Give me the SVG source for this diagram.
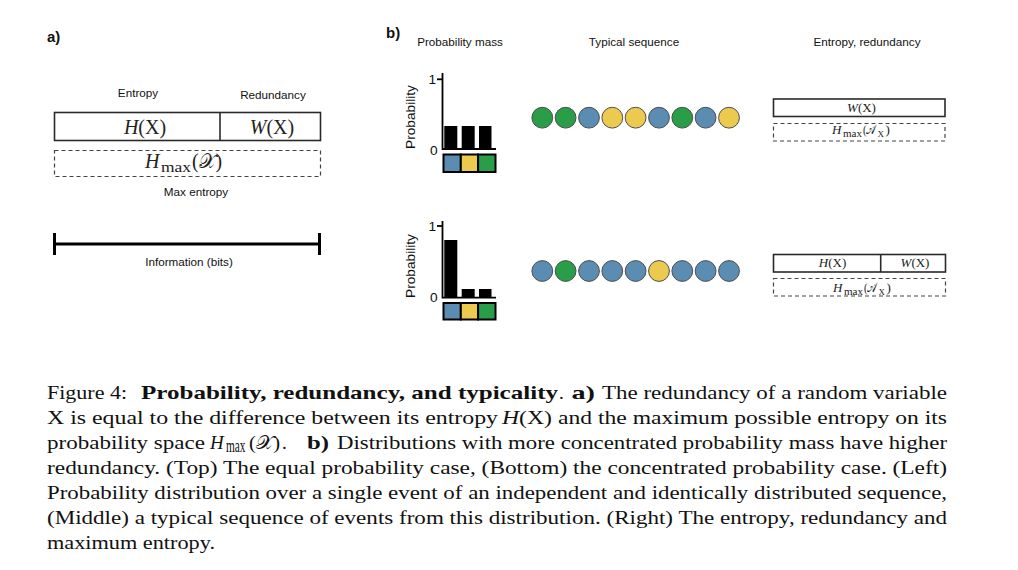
<svg xmlns="http://www.w3.org/2000/svg" width="1018" height="570" viewBox="0 0 1018 570">
<defs>
<style>
.sans{font-family:"Liberation Sans",Arial,sans-serif;fill:#111}
.lbl{font-size:11.7px}
.panel{font-size:15px;font-weight:bold}
.math{font-family:"Liberation Serif","DejaVu Serif",serif;fill:#222}
.cap{font-family:"Liberation Serif","DejaVu Serif",serif;font-size:19px;fill:#111}
.b{font-weight:bold}
.it{font-style:italic}
.solid{fill:none;stroke:#2a2a2a;stroke-width:1.6}
.dash{fill:none;stroke:#444;stroke-width:1.2;stroke-dasharray:4 3}
.axis{stroke:#000;stroke-width:1.8;fill:none}
.bar{fill:#000}
.blue{fill:#5b8cb2}
.yel{fill:#ebca4f}
.grn{fill:#2a9d49}
.dot{stroke:#4d4d4d;stroke-width:1}
.cell{stroke:#000;stroke-width:2}
</style>
</defs>
<rect width="1018" height="570" fill="#fff"/>

<!-- Panel a -->
<text class="sans panel" x="47" y="42">a)</text>
<g id="entropy-redundancy-bar">
<text class="sans lbl" x="138" y="97" text-anchor="middle">Entropy</text>
<text class="sans lbl" x="273" y="99" text-anchor="middle">Redundancy</text>
<rect class="solid" x="54.5" y="112.5" width="266" height="28"/>
<line class="solid" x1="220" y1="112.5" x2="220" y2="140.5"/>
<text class="math" x="145" y="133.5" font-size="20" text-anchor="middle"><tspan class="it">H</tspan>(X)</text>
<text class="math" x="272" y="133.5" font-size="20" text-anchor="middle"><tspan class="it">W</tspan>(X)</text>
</g>
<g id="max-entropy-bar">
<rect class="dash" x="54.5" y="150.5" width="266" height="26"/>
<text class="math it" x="145" y="168" font-size="20">H</text>
<text class="math" x="161" y="172" font-size="14" textLength="30" lengthAdjust="spacingAndGlyphs">max</text>
<text class="math" x="192" y="168" font-size="20" textLength="30" lengthAdjust="spacingAndGlyphs">(𝒳)</text>
<text class="sans lbl" x="196" y="196" text-anchor="middle">Max entropy</text>
</g>
<g id="information-axis">
<line x1="54" y1="244" x2="320" y2="244" stroke="#000" stroke-width="3"/>
<line x1="54.5" y1="233" x2="54.5" y2="255" stroke="#000" stroke-width="3"/>
<line x1="319.5" y1="233" x2="319.5" y2="255" stroke="#000" stroke-width="3"/>
<text class="sans lbl" x="189" y="266" text-anchor="middle">Information (bits)</text>
</g>

<!-- Panel b -->
<text class="sans panel" x="386" y="38">b)</text>
<text class="sans lbl" x="460" y="46" text-anchor="middle">Probability mass</text>
<text class="sans lbl" x="634" y="46" text-anchor="middle">Typical sequence</text>
<text class="sans lbl" x="867" y="46" text-anchor="middle">Entropy, redundancy</text>

<g id="pmf-top">
<text class="sans" font-size="13.7" transform="translate(415,117) rotate(-90)" text-anchor="middle">Probability</text>
<polyline class="axis" points="442.5,73 442.5,149 496,149"/>
<line class="axis" x1="437" y1="79.3" x2="442.5" y2="79.3"/>
<text class="sans" font-size="13.7" x="436" y="83.5" text-anchor="end">1</text>
<text class="sans" font-size="13.7" x="437.5" y="155" text-anchor="end">0</text>
<rect class="bar" x="444.3" y="126" width="13" height="23"/>
<rect class="bar" x="461.7" y="126" width="13" height="23"/>
<rect class="bar" x="479" y="126" width="12.5" height="23"/>
<rect class="blue cell" x="443.5" y="154.5" width="17.3" height="17.5"/>
<rect class="yel cell" x="460.8" y="154.5" width="17.3" height="17.5"/>
<rect class="grn cell" x="478.1" y="154.5" width="17.4" height="17.5"/>
</g>

<g id="pmf-bottom">
<text class="sans" font-size="13.7" transform="translate(415,266) rotate(-90)" text-anchor="middle">Probability</text>
<polyline class="axis" points="442.5,221 442.5,297.7 496,297.7"/>
<line class="axis" x1="437" y1="226" x2="442.5" y2="226"/>
<text class="sans" font-size="13.7" x="436" y="230.5" text-anchor="end">1</text>
<text class="sans" font-size="13.7" x="437.5" y="302" text-anchor="end">0</text>
<rect class="bar" x="444.3" y="240" width="13" height="57.7"/>
<rect class="bar" x="461.7" y="289" width="13" height="8.7"/>
<rect class="bar" x="479" y="289" width="12.5" height="8.7"/>
<rect class="blue cell" x="443.5" y="303" width="17.3" height="16.5"/>
<rect class="yel cell" x="460.8" y="303" width="17.3" height="16.5"/>
<rect class="grn cell" x="478.1" y="303" width="17.4" height="16.5"/>
</g>

<g id="sequence-top">
<circle class="dot grn" cx="542.3" cy="117.7" r="10.4"/>
<circle class="dot grn" cx="565.6" cy="117.7" r="10.4"/>
<circle class="dot blue" cx="589" cy="117.7" r="10.4"/>
<circle class="dot yel" cx="612.3" cy="117.7" r="10.4"/>
<circle class="dot yel" cx="635.6" cy="117.7" r="10.4"/>
<circle class="dot blue" cx="659" cy="117.7" r="10.4"/>
<circle class="dot grn" cx="682.3" cy="117.7" r="10.4"/>
<circle class="dot blue" cx="705.6" cy="117.7" r="10.4"/>
<circle class="dot yel" cx="729" cy="117.7" r="10.4"/>
</g>

<g id="sequence-bottom">
<circle class="dot blue" cx="542.3" cy="271" r="10.4"/>
<circle class="dot grn" cx="565.6" cy="271" r="10.4"/>
<circle class="dot blue" cx="589" cy="271" r="10.4"/>
<circle class="dot blue" cx="612.3" cy="271" r="10.4"/>
<circle class="dot blue" cx="635.6" cy="271" r="10.4"/>
<circle class="dot yel" cx="659" cy="271" r="10.4"/>
<circle class="dot blue" cx="682.3" cy="271" r="10.4"/>
<circle class="dot blue" cx="705.6" cy="271" r="10.4"/>
<circle class="dot blue" cx="729" cy="271" r="10.4"/>
</g>

<g id="entropy-top">
<rect class="solid" x="773.5" y="99" width="171.5" height="17.5" stroke-width="1.4"/>
<text class="math" x="861.5" y="111.7" font-size="13" text-anchor="middle"><tspan class="it">W</tspan>(X)</text>
<rect class="dash" x="773.5" y="123.5" width="171.5" height="17.5" stroke-width="1" stroke-dasharray="3 2"/>
<text class="math it" x="832" y="134" font-size="13">H</text>
<text class="math" x="843" y="137.3" font-size="9.5" textLength="19" lengthAdjust="spacingAndGlyphs">max</text>
<text class="math" x="863" y="134" font-size="13" textLength="13" lengthAdjust="spacingAndGlyphs">(𝒜</text>
<text class="math" x="877.5" y="137" font-size="9">X</text>
<text class="math" x="885.5" y="134" font-size="13">)</text>
</g>

<g id="entropy-bottom">
<rect class="solid" x="773.5" y="254.5" width="172" height="17.5" stroke-width="1.4"/>
<line class="solid" x1="880.7" y1="254.5" x2="880.7" y2="272" stroke-width="1.4"/>
<text class="math" x="832.5" y="266.7" font-size="13" text-anchor="middle"><tspan class="it">H</tspan>(X)</text>
<text class="math" x="915" y="266.7" font-size="13" text-anchor="middle"><tspan class="it">W</tspan>(X)</text>
<rect class="dash" x="773.5" y="278.5" width="172" height="17.5" stroke-width="1" stroke-dasharray="3 2"/>
<text class="math it" x="833" y="291.5" font-size="13">H</text>
<text class="math" x="844" y="294.8" font-size="9.5" textLength="19" lengthAdjust="spacingAndGlyphs">max</text>
<text class="math" x="864" y="291.5" font-size="13" textLength="13" lengthAdjust="spacingAndGlyphs">(𝒜</text>
<text class="math" x="878.5" y="294.5" font-size="9">X</text>
<text class="math" x="886.5" y="291.5" font-size="13">)</text>
</g>

<g id="connectors"/>

<!-- Caption -->
<g id="caption">
<text class="cap" x="47" y="398.5" textLength="80" lengthAdjust="spacingAndGlyphs">Figure 4:</text>
<text class="cap b" x="141" y="398.5" textLength="417" lengthAdjust="spacingAndGlyphs">Probability, redundancy, and typicality</text>
<text class="cap" x="559" y="398.5">.</text>
<text class="cap b" x="571.5" y="398.5" textLength="23.5" lengthAdjust="spacingAndGlyphs">a)</text>
<text class="cap" x="602" y="398.5" textLength="345" lengthAdjust="spacingAndGlyphs">The redundancy of a random variable</text>

<text class="cap" x="47" y="423.5" textLength="451" lengthAdjust="spacingAndGlyphs">X is equal to the difference between its entropy</text>
<text class="cap" x="502" y="423.5" textLength="50" lengthAdjust="spacingAndGlyphs"><tspan class="it">H</tspan>(X)</text>
<text class="cap" x="558" y="423.5" textLength="389" lengthAdjust="spacingAndGlyphs">and the maximum possible entropy on its</text>

<text class="cap" x="47" y="448.5" textLength="158" lengthAdjust="spacingAndGlyphs">probability space</text>
<text class="cap it" x="210" y="448.5">H</text>
<text class="cap" x="226" y="452" font-size="13" textLength="19.5" lengthAdjust="spacingAndGlyphs">max</text>
<text class="cap" x="249" y="448.5" textLength="31" lengthAdjust="spacingAndGlyphs">(𝒳)</text>
<text class="cap" x="282" y="448.5">.</text>
<text class="cap b" x="307" y="448.5" textLength="22" lengthAdjust="spacingAndGlyphs">b)</text>
<text class="cap" x="337" y="448.5" textLength="610" lengthAdjust="spacingAndGlyphs">Distributions with more concentrated probability mass have higher</text>

<text class="cap" x="47" y="473.5" textLength="900" lengthAdjust="spacingAndGlyphs">redundancy. (Top) The equal probability case, (Bottom) the concentrated probability case. (Left)</text>
<text class="cap" x="47" y="498.5" textLength="900" lengthAdjust="spacingAndGlyphs">Probability distribution over a single event of an independent and identically distributed sequence,</text>
<text class="cap" x="47" y="523.5" textLength="900" lengthAdjust="spacingAndGlyphs">(Middle) a typical sequence of events from this distribution. (Right) The entropy, redundancy and</text>
<text class="cap" x="47" y="548.5" textLength="168" lengthAdjust="spacingAndGlyphs">maximum entropy.</text>
</g>
</svg>
